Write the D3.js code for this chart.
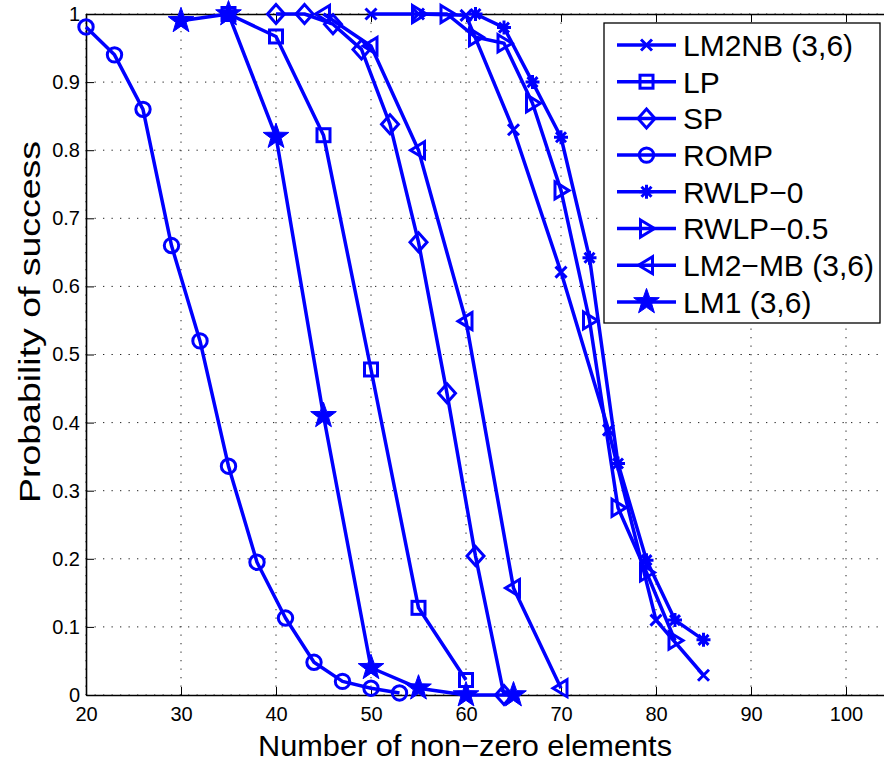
<!DOCTYPE html>
<html>
<head>
<meta charset="utf-8">
<script src="https://cdn.jsdelivr.net/npm/d3@7"></script>
<style>
  html, body { margin: 0; padding: 0; background: #fff; }
  svg { display: block; }
  text { font-family: "Liberation Sans", Arial, Helvetica, sans-serif; fill: #000; }
</style>
</head>
<body>
<svg id="chart" width="884" height="763"></svg>
<script>
// ---------- data ----------
const xTicks = [20, 30, 40, 50, 60, 70, 80, 90, 100];
const yTicks = [0, 0.1, 0.2, 0.3, 0.4, 0.5, 0.6, 0.7, 0.8, 0.9, 1];
const yTickLabels = ["0", "0.1", "0.2", "0.3", "0.4", "0.5", "0.6", "0.7", "0.8", "0.9", "1"];

const lm2nbX = [50, 55, 60, 65, 70, 75, 80, 85];
const lm2nbY = [1.0, 1.0, 0.998, 0.83, 0.621, 0.389, 0.11, 0.029];

const lpX = [35, 40, 45, 50, 55, 60];
const lpY = [1.0, 0.967, 0.822, 0.478, 0.128, 0.022];

const spX = [40, 43, 46, 49, 52, 55, 58, 61, 64];
const spY = [1.0, 1.0, 0.985, 0.948, 0.838, 0.665, 0.443, 0.204, 0.0];

const rompX = [20, 23, 26, 29, 32, 35, 38, 41, 44, 47, 50, 53];
const rompY = [0.981, 0.94, 0.86, 0.66, 0.52, 0.336, 0.195, 0.113, 0.048, 0.02, 0.01, 0.003];

const rwlp0X = [61, 64, 67, 70, 73, 76, 79, 82, 85];
const rwlp0Y = [1.0, 0.98, 0.90, 0.819, 0.642, 0.34, 0.198, 0.11, 0.081];

const rwlp05X = [55, 58, 61, 64, 67, 70, 73, 76, 79, 82];
const rwlp05Y = [1.0, 1.0, 0.966, 0.957, 0.869, 0.741, 0.55, 0.275, 0.18, 0.08];

const lm2mbX = [45, 50, 55, 60, 65, 70];
const lm2mbY = [1.0, 0.953, 0.80, 0.549, 0.157, 0.01];

const lm1X = [30, 35, 40, 45, 50, 55, 60, 65];
const lm1Y = [0.99, 1.0, 0.82, 0.41, 0.04, 0.01, 0.0, 0.0];

const seriesNames = ["LM2NB (3,6)", "LP", "SP", "ROMP", "RWLP\u22120", "RWLP\u22120.5", "LM2\u2212MB (3,6)", "LM1 (3,6)"];
const seriesMarkers = ["x", "square", "diamond", "circle", "asterisk", "right", "left", "star"];
const seriesXs = [lm2nbX, lpX, spX, rompX, rwlp0X, rwlp05X, lm2mbX, lm1X];
const seriesYs = [lm2nbY, lpY, spY, rompY, rwlp0Y, rwlp05Y, lm2mbY, lm1Y];

const xLabel = "Number of non\u2212zero elements";
const yLabel = "Probability of success";

// ---------- layout ----------
const BLUE = "#0000ff";
const svg = d3.select("#chart");
const pLeft = 86, pRight = 893.5, pTop = 14, pBottom = 695;
const x = d3.scaleLinear().domain([20, 105]).range([pLeft, pRight]);
const y = d3.scaleLinear().domain([0, 1]).range([pBottom, pTop]);

// grid
const grid = svg.append("g");
grid.selectAll("line.vg").data(xTicks).join("line")
  .attr("x1", d => x(d)).attr("x2", d => x(d))
  .attr("y1", pTop).attr("y2", pBottom)
  .attr("stroke", "#222").attr("stroke-width", 1)
  .attr("stroke-dasharray", "1.3,7.2");
grid.selectAll("line.hg").data(yTicks).join("line")
  .attr("x1", pLeft).attr("x2", pRight)
  .attr("y1", d => y(d)).attr("y2", d => y(d))
  .attr("stroke", "#222").attr("stroke-width", 1)
  .attr("stroke-dasharray", "1.3,7.2");

// axes
const fontTick = "20px";
const gx = svg.append("g").attr("transform", `translate(0,${pBottom})`)
  .call(d3.axisBottom(x).tickValues(xTicks).tickSizeInner(-8).tickSizeOuter(0).tickPadding(12).tickFormat(d3.format("d")));
const gy = svg.append("g").attr("transform", `translate(${pLeft},0)`)
  .call(d3.axisLeft(y).tickValues(yTicks).tickSizeInner(-8).tickSizeOuter(0).tickPadding(6).tickFormat((d, i) => yTickLabels[i]));
const gt = svg.append("g").attr("transform", `translate(0,${pTop})`)
  .call(d3.axisTop(x).tickValues(xTicks).tickSizeInner(-8).tickSizeOuter(0).tickFormat(""));
const gr = svg.append("g").attr("transform", `translate(${pRight},0)`)
  .call(d3.axisRight(y).tickValues(yTicks).tickSizeInner(-8).tickSizeOuter(0).tickFormat(""));
[gx, gy, gt, gr].forEach(g => {
  g.attr("font-size", null).attr("font-family", null);
  g.select(".domain").attr("stroke", "#000").attr("stroke-width", 1.6);
  g.selectAll(".tick line").attr("stroke", "#000").attr("stroke-width", 1);
  g.selectAll(".tick text").attr("font-size", fontTick).style("font-size", fontTick)
    .style("font-family", '"Liberation Sans", Arial, sans-serif').attr("fill", "#000");
});

// markers
function drawMarker(g, type, cx, cy) {
  const s = g.append("g").attr("transform", `translate(${cx},${cy})`);
  const st = { stroke: BLUE, "stroke-width": 3, fill: "none" };
  const ap = (sel) => { Object.entries(st).forEach(([k, v]) => sel.attr(k, v)); return sel; };
  if (type === "circle") {
    ap(s.append("circle").attr("r", 7.2));
  } else if (type === "square") {
    ap(s.append("rect").attr("x", -6.5).attr("y", -6.5).attr("width", 13).attr("height", 13));
  } else if (type === "diamond") {
    ap(s.append("path").attr("d", "M0,-9.5L8.5,0L0,9.5L-8.5,0Z"));
  } else if (type === "x") {
    ap(s.append("path").attr("d", "M-5.5,-5.5L5.5,5.5M-5.5,5.5L5.5,-5.5"));
  } else if (type === "asterisk") {
    ap(s.append("path").attr("d", "M0,-7L0,7M-7,0L7,0M-5,-5L5,5M-5,5L5,-5"));
  } else if (type === "right") {
    ap(s.append("path").attr("d", "M-6,-8.5L8,0L-6,8.5Z"));
  } else if (type === "left") {
    ap(s.append("path").attr("d", "M6,-8.5L-8,0L6,8.5Z"));
  } else if (type === "star") {
    const pts = [];
    for (let k = 0; k < 10; k++) {
      const r = k % 2 === 0 ? 13.5 : 5.4;
      const a = -Math.PI / 2 + k * Math.PI / 5;
      pts.push([r * Math.cos(a), r * Math.sin(a)]);
    }
    s.append("path").attr("d", "M" + pts.map(p => p.join(",")).join("L") + "Z")
      .attr("fill", BLUE).attr("stroke", BLUE).attr("stroke-width", 1);
  }
}

// series
const line = d3.line().x(d => x(d[0])).y(d => y(d[1]));
const plot = svg.append("g");
seriesNames.forEach((name, i) => {
  const pts = seriesXs[i].map((v, j) => [v, seriesYs[i][j]]);
  const g = plot.append("g");
  g.append("path").datum(pts).attr("d", line)
    .attr("fill", "none").attr("stroke", BLUE).attr("stroke-width", 3.5)
    .attr("stroke-linejoin", "round");
  pts.forEach(p => drawMarker(g, seriesMarkers[i], x(p[0]), y(p[1])));
});

// axis labels
svg.append("text").attr("x", 465).attr("y", 756)
  .attr("text-anchor", "middle").style("font-size", "30px")
  .attr("textLength", 414).attr("lengthAdjust", "spacingAndGlyphs").text(xLabel);
svg.append("text").attr("transform", "translate(40,322) rotate(-90)")
  .attr("text-anchor", "middle").style("font-size", "30px")
  .attr("textLength", 362).attr("lengthAdjust", "spacingAndGlyphs").text(yLabel);

// legend
const lg = svg.append("g");
lg.append("rect").attr("x", 604).attr("y", 23).attr("width", 276).attr("height", 300)
  .attr("fill", "#fff").attr("stroke", "#000").attr("stroke-width", 1.3);
seriesNames.forEach((name, i) => {
  const cy = 45 + i * 36.7;
  lg.append("line").attr("x1", 617).attr("x2", 676).attr("y1", cy).attr("y2", cy)
    .attr("stroke", BLUE).attr("stroke-width", 3.5);
  drawMarker(lg, seriesMarkers[i], 646.5, cy);
  lg.append("text").attr("x", 683).attr("y", cy).attr("dy", "0.36em")
    .style("font-size", "30px").text(name);
});
</script>
</body>
</html>
